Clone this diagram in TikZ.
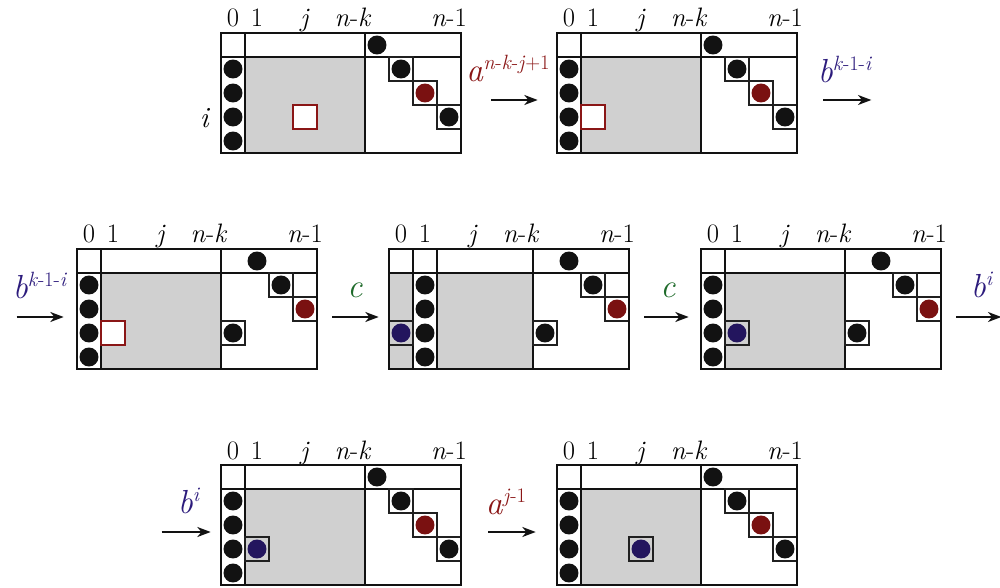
\documentclass[tikz,border=0pt]{standalone}
\usetikzlibrary{arrows.meta,calc}

\definecolor{dotblack}{HTML}{121212}
\definecolor{dotred}{HTML}{7A1111}
\definecolor{dotblue}{HTML}{23155E}
\definecolor{lblred}{HTML}{8A1616}
\definecolor{lblblue}{HTML}{2C1B7C}
\definecolor{lblgreen}{HTML}{1F6B2B}
\definecolor{cellgray}{HTML}{D0D0D0}
\definecolor{boxline}{HTML}{202020}

% a generator letter with a raised, smaller exponent
\newcommand\genpow[2]{\textit{#1}\raisebox{9pt}{\fontsize{15.5}{18}\selectfont #2}}

% cell-unit helpers (used inside a panel scope, one unit = one cell)
\newcommand\pgStdGrid{%
  \fill[cellgray] (1,1) rectangle (6,5);
  \draw[innerline] (0,1) -- (10,1) (1,0) -- (1,5) (6,0) -- (6,5);}
\newcommand\pgLeftDots[1]{%
  \foreach \r in {1,...,4}{\fill[dotblack] (#1+0.5,\r+0.5) circle (7.1pt);}}
\newcommand\pgDot[3]{\fill[#1] (#2+0.5,#3+0.5) circle (7.1pt);}
\newcommand\pgBox[2]{\draw[cellbox] (#1,#2) rectangle ++(1,1);}
\newcommand\pgHole[2]{\draw[hole] (#1,#2) rectangle ++(1,1);}
\newcommand\pgStairA{%
  \pgDot{dotblack}{6}{0}
  \pgDot{dotblack}{7}{1}\pgBox{7}{1}
  \pgDot{dotred}{8}{2}\pgBox{8}{2}
  \pgDot{dotblack}{9}{3}\pgBox{9}{3}}
\newcommand\pgStairB{%
  \pgDot{dotblack}{7}{0}
  \pgDot{dotblack}{8}{1}\pgBox{8}{1}
  \pgDot{dotred}{9}{2}\pgBox{9}{2}
  \pgDot{dotblack}{6}{3}\pgBox{6}{3}}
\newcommand\pgColLabels[1]{%
  \node[collbl] (#1-c0) at (0.5,-0.25) {0};
  \node[collbl] (#1-c1) at (1.5,-0.25) {1};
  \node[collbl] (#1-cj) at (3.5,-0.25) {\textit{j}};
  \node[collbl] (#1-cnk) at (5.5,-0.25) {\textit{n}-\textit{k}};
  \node[collbl] (#1-cn1) at (9.5,-0.25) {\textit{n}-1};}

\begin{document}
\begin{tikzpicture}[x=0.75pt,y=-0.75pt,
  innerline/.style={line width=1pt,draw=dotblack},
  cellbox/.style={line width=1.8pt,draw=boxline},
  hole/.style={line width=1.8pt,draw=lblred,fill=white},
  panel/.style={draw=dotblack,line width=2pt,minimum width=180pt,minimum height=90pt,inner sep=0pt},
  collbl/.style={anchor=base,inner sep=0pt,font=\fontsize{20}{24}\selectfont},
  mlbl/.style={anchor=base,inner sep=0pt,font=\fontsize{25}{30}\selectfont},
  conn/.style={line width=1.2pt,draw=dotblack,-{Stealth[length=10pt,width=7.5pt,inset=3pt]}},
  cellunits/.style={x=18pt,y=-18pt}]
\useasboundingbox (0,0) rectangle (1000,588);

% ---------- row 1 ----------
\begin{scope}[shift={(221,33)},cellunits]
  \pgStdGrid
  \pgLeftDots{0}
  \pgStairA
  \pgHole{3}{3}
  \pgColLabels{p1}
  \node[anchor=base,inner sep=0pt,font=\fontsize{22}{26}\selectfont] (p1-i) at (-0.67,3.92) {\textit{i}};
\end{scope}
\node[panel] (p1) at (341,93) {};

\begin{scope}[shift={(557,33)},cellunits]
  \pgStdGrid
  \pgLeftDots{0}
  \pgStairA
  \pgHole{1}{3}
  \pgColLabels{p2}
\end{scope}
\node[panel] (p2) at (677,93) {};

% ---------- row 2 ----------
\begin{scope}[shift={(77,249)},cellunits]
  \pgStdGrid
  \pgLeftDots{0}
  \pgStairB
  \pgHole{1}{3}
  \pgColLabels{p3}
\end{scope}
\node[panel] (p3) at (197,309) {};

\begin{scope}[shift={(389,249)},cellunits]
  \fill[cellgray] (0,1) rectangle (1,5);
  \fill[cellgray] (2,1) rectangle (6,5);
  \draw[innerline] (0,1) -- (10,1) (2,0) -- (2,5) (6,0) -- (6,5);
  \draw[innerline,line width=1.4pt] (1,0) -- (1,5);
  \pgLeftDots{1}
  \pgStairB
  \pgDot{dotblue}{0}{3}\pgBox{0}{3}
  \pgColLabels{p4}
\end{scope}
\node[panel] (p4) at (509,309) {};

\begin{scope}[shift={(701,249)},cellunits]
  \pgStdGrid
  \pgLeftDots{0}
  \pgStairB
  \pgDot{dotblue}{1}{3}\pgBox{1}{3}
  \pgColLabels{p5}
\end{scope}
\node[panel] (p5) at (821,309) {};

% ---------- row 3 ----------
\begin{scope}[shift={(221,465)},cellunits]
  \pgStdGrid
  \pgLeftDots{0}
  \pgStairA
  \pgDot{dotblue}{1}{3}\pgBox{1}{3}
  \pgColLabels{p6}
\end{scope}
\node[panel] (p6) at (341,525) {};

\begin{scope}[shift={(557,465)},cellunits]
  \pgStdGrid
  \pgLeftDots{0}
  \pgStairA
  \pgDot{dotblue}{3}{3}\pgBox{3}{3}
  \pgColLabels{p7}
\end{scope}
\node[panel] (p7) at (677,525) {};

% ---------- moves ----------
\node[mlbl,text=lblred] (m12) at (508,82) {\genpow{a}{\textit{n}-\textit{k}-\textit{j}+1}};
\draw[conn] ($(p1.east)+(29,7)$) -- ($(p2.west)+(-18,7)$);

\node[mlbl,text=lblblue] (m2o) at (845,83) {\genpow{b}{\textit{k}-1-\textit{i}}};
\coordinate (out2) at ($(p2.east)+(73,7)$);
\draw[conn] ($(p2.east)+(25,7)$) -- (out2);

\node[mlbl,text=lblblue] (m3i) at (40,298) {\genpow{b}{\textit{k}-1-\textit{i}}};
\coordinate (in3) at ($(p3.west)+(-59,8)$);
\draw[conn] (in3) -- ($(p3.west)+(-12,8)$);

\node[mlbl,text=lblgreen] (m34) at (355,297) {\textit{c}};
\draw[conn] ($(p3.east)+(14,8)$) -- ($(p4.west)+(-9,8)$);

\node[mlbl,text=lblgreen] (m45) at (668,297) {\textit{c}};
\draw[conn] ($(p4.east)+(14,8)$) -- ($(p5.west)+(-11,8)$);

\node[mlbl,text=lblblue] (m5o) at (982,297) {\genpow{b}{\textit{i}}};
\coordinate (out5) at ($(p5.east)+(59,8)$);
\draw[conn] ($(p5.east)+(14,8)$) -- (out5);

\node[mlbl,text=lblblue] (m6i) at (189,513) {\genpow{b}{\textit{i}}};
\coordinate (in6) at ($(p6.west)+(-58,7)$);
\draw[conn] (in6) -- ($(p6.west)+(-9,7)$);

\node[mlbl,text=lblred] (m67) at (506,514) {\genpow{a}{\textit{j}-1}};
\draw[conn] ($(p6.east)+(26,7)$) -- ($(p7.west)+(-20,7)$);
\end{tikzpicture}
\end{document}
